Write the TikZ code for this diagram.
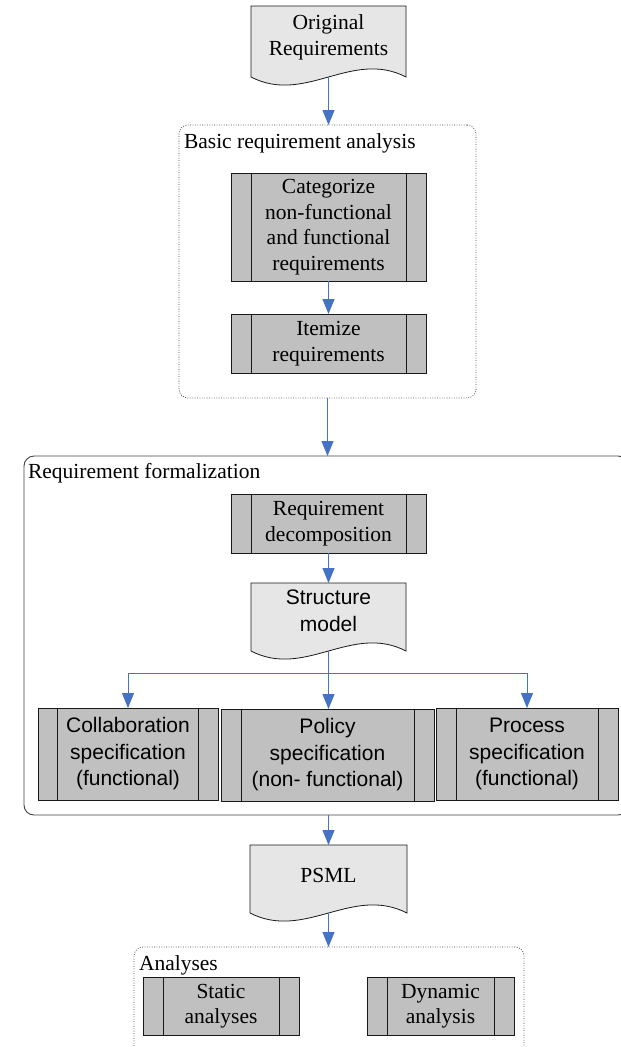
\documentclass[tikz,border=0pt]{standalone}
\usepackage{fontspec}
\setmainfont{Liberation Serif}
\newfontfamily\arialf{Liberation Sans}
\usetikzlibrary{arrows.meta,backgrounds,calc}
\definecolor{arrowblue}{HTML}{4472C4}
\definecolor{procgray}{HTML}{C0C0C0}
\definecolor{docgray}{HTML}{E6E6E6}
\tikzset{
  every node/.style={inner sep=0pt, outer sep=0pt},
  wh/.style 2 args={minimum width=#1pt, minimum height=#2pt},
  tnr/.style={font=\fontsize{21.5}{25.5}\selectfont, align=center},
  ari/.style={font=\arialf\fontsize{21}{26.5}\selectfont, align=center},
  procbox/.style={draw=black!90, line width=0.8pt, fill=procgray},
  docline/.style={draw=black!90, line width=0.8pt, fill=docgray},
  arr/.style={draw=arrowblue, line width=0.9pt, -{Triangle[length=15pt,width=12pt]}},
  dotbox/.style={draw=black!70, line width=0.8pt, dash pattern=on 0.8pt off 1.6pt, rounded corners=9pt},
  solidbox/.style={draw=black!75, line width=0.9pt, rounded corners=10pt},
}
\newcommand\stripes[2]{%
  \draw[line width=0.8pt, black!90] ([xshift=#2pt]#1.north west) -- ([xshift=#2pt]#1.south west)
    ([xshift=-#2pt]#1.north east) -- ([xshift=-#2pt]#1.south east);}
\newcommand\docshape[2]{%
  \coordinate (#1-l) at ([yshift=-#2pt]#1.south west);
  \coordinate (#1-r) at ([yshift=-#2pt]#1.south east);
  \coordinate (#1-m) at ($(#1-l)!0.5!(#1-r)$);
  \coordinate (#1-c1) at ($(#1-l)!0.65!(#1-r)$);
  \coordinate (#1-c2) at ($(#1-l)!0.35!(#1-r)$);
  \path[docline] (#1.north west) -- (#1.north east) -- (#1-r)
    .. controls ([yshift=28pt]#1-c1) and ([yshift=-28pt]#1-c2) .. (#1-l) -- cycle;}
\begin{document}
\begin{tikzpicture}[x=1pt,y=-1pt]
\useasboundingbox (0,0) rectangle (621,1047);
% containers
\node[dotbox, wh={297}{273}] (basic) at (327.5,261.5) {};
\node[tnr, anchor=base west] (basiclbl) at (184,148) {Basic requirement analysis};
\node[solidbox, wh={604}{359}] (formal) at (326,635.5) {};
\node[tnr, anchor=base west] (formallbl) at (28,478) {Requirement formalization};
\node[dotbox, wh={390}{110}] (anal) at (329,1002) {};
\node[tnr, anchor=base west] (anallbl) at (139,970) {Analyses};
% documents
\node[tnr, wh={155}{63}] (orig) at (328.5,37.5) {Original\\Requirements};
\node[ari, wh={155}{55.5}] (struct) at (328.5,610.75) {Structure\\model};
\node[tnr, wh={157}{60}] (psml) at (328.5,875) {PSML};
% processes
\node[procbox, tnr, wh={195}{108}] (cat) at (328.5,227) {Categorize\\non-functional\\and functional\\requirements};
\node[procbox, tnr, wh={195}{59}] (item) at (328.5,343.5) {Itemize\\requirements};
\node[procbox, tnr, wh={195}{59}] (decomp) at (328.5,523.5) {Requirement\\decomposition};
\node[procbox, ari, wh={180}{92}] (collab) at (128,754) {Collaboration\\specification\\(functional)};
\node[procbox, ari, wh={213}{92}] (policy) at (327.5,755) {Policy\\specification\\(non- functional)};
\node[procbox, ari, wh={182}{92}] (process) at (527,754) {Process\\specification\\(functional)};
\node[procbox, tnr, wh={156}{58}] (static) at (221,1006) {Static\\analyses};
\node[procbox, tnr, wh={147}{58}] (dynamic) at (440.5,1006) {Dynamic\\analysis};
\stripes{cat}{20}
\stripes{item}{20}
\stripes{decomp}{20}
\stripes{collab}{19.5}
\stripes{policy}{20}
\stripes{process}{20}
\stripes{static}{20}
\stripes{dynamic}{20}
\begin{scope}[on background layer]
\docshape{orig}{8}
\docshape{struct}{12.5}
\docshape{psml}{8}
\end{scope}
% connectors
\draw[arr] (orig-m) -- (orig-m |- basic.north);
\draw[arr] (cat.south) -- (item.north);
\draw[arr] (basic.south) -- (basic.south |- formal.north);
\draw[arr] (decomp.south) -- (struct.north);
\coordinate (split) at ($(struct-m)+(0,22)$);
\draw[arr] (struct-m) -- (split) -| (collab.north);
\draw[arr] (split) -- (split |- policy.north);
\draw[arr] (split) -| (process.north);
\draw[arr] (psml.north |- formal.south) -- (psml.north);
\draw[arr] (psml-m) -- (psml-m |- anal.north);
\end{tikzpicture}
\end{document}
